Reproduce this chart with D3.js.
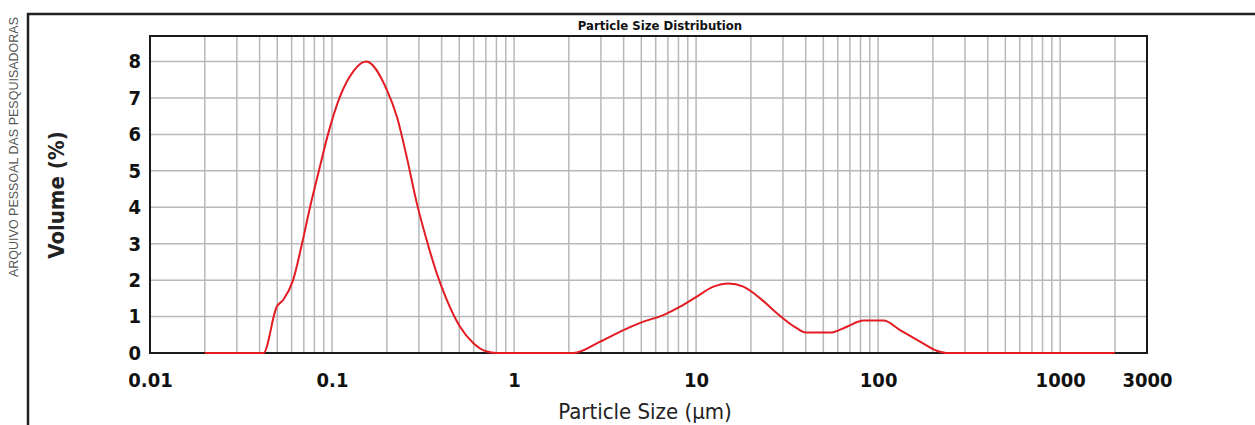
<!DOCTYPE html>
<html>
<head>
<meta charset="utf-8">
<script src="https://cdn.jsdelivr.net/npm/d3@7"></script>
<style>
  body { margin: 0; background: #fff; }
  svg { display: block; }
</style>
</head>
<body>
<div id="chart"></div>
<script>
// Particle size (um) and volume (%)
const sizes = [0.02, 0.042, 0.0497, 0.054, 0.0611, 0.0684, 0.0757, 0.0847, 0.095, 0.1107, 0.1309, 0.154,
    0.1997, 0.227, 0.257, 0.292, 0.331, 0.376, 0.427, 0.505, 0.598, 0.708, 0.80,
    2.12, 2.97, 3.99, 5.14, 6.61, 8.17, 10.1, 12.45, 15.07, 18.2, 22.5, 27.8, 35.7,
    40.5, 54.5, 67.3, 83, 107, 132, 170, 210, 238, 2000];
const volume = [0, 0, 1.27, 1.46, 2.0, 3.0, 4.0, 5.0, 6.0, 7.04, 7.73, 8.0,
    7.23, 6.49, 5.39, 4.12, 3.10, 2.19, 1.46, 0.72, 0.27, 0.04, 0,
    0, 0.31, 0.63, 0.86, 1.04, 1.27, 1.55, 1.82, 1.91, 1.82, 1.50, 1.09, 0.68,
    0.56, 0.56, 0.72, 0.89, 0.89, 0.63, 0.31, 0.06, 0, 0];
const xTicks = [0.01, 0.1, 1, 10, 100, 1000, 3000];
const yTicks = [0, 1, 2, 3, 4, 5, 6, 7, 8];

const data = sizes.map((s, i) => ({size: s, vol: volume[i]}));

const W = 1255, H = 425;
const plot = {left: 150, right: 1147, top: 36, bottom: 353};

const svg = d3.select("#chart").append("svg")
    .attr("width", W)
    .attr("height", H);

const x = d3.scaleLog()
    .domain([0.01, 3000])
    .range([plot.left, plot.right]);

const y = d3.scaleLinear()
    .domain([0, 8.7])
    .range([plot.bottom, plot.top]);

// outer frame (top and left edges of the figure box)
svg.append("path")
    .attr("d", `M28,${H} L28,14 L${W},14`)
    .attr("fill", "none")
    .attr("stroke", "#222")
    .attr("stroke-width", 2.5);

// side credit
svg.append("text")
    .attr("transform", "translate(18,147) rotate(-90)")
    .attr("text-anchor", "middle")
    .style("font-family", "Liberation Sans, Arial, sans-serif")
    .style("font-size", "12.5px")
    .attr("fill", "#555")
    .text("ARQUIVO PESSOAL DAS PESQUISADORAS");

// title
svg.append("text")
    .attr("x", 660)
    .attr("y", 30)
    .attr("text-anchor", "middle")
    .style("font-family", "DejaVu Sans Condensed, sans-serif")
    .style("font-weight", "bold")
    .style("font-size", "13px")
    .attr("fill", "#111")
    .text("Particle Size Distribution");

// vertical grid: 1..9 per decade
const gridX = [];
for (let e = -2; e <= 3; e++) {
    for (let m = 1; m <= 9; m++) {
        const v = m * Math.pow(10, e);
        if (v > 0.01 && v < 3000) gridX.push(v);
    }
}
svg.append("g")
    .selectAll("line")
    .data(gridX)
    .enter()
    .append("line")
    .attr("x1", d => x(d))
    .attr("x2", d => x(d))
    .attr("y1", plot.top)
    .attr("y2", plot.bottom)
    .attr("stroke", "#b8b8b8")
    .attr("stroke-width", 1.5);

// horizontal grid
svg.append("g")
    .selectAll("line")
    .data(yTicks.filter(d => d > 0))
    .enter()
    .append("line")
    .attr("x1", plot.left)
    .attr("x2", plot.right)
    .attr("y1", d => y(d))
    .attr("y2", d => y(d))
    .attr("stroke", "#b8b8b8")
    .attr("stroke-width", 1.5);

// plot frame
svg.append("rect")
    .attr("x", plot.left)
    .attr("y", plot.top)
    .attr("width", plot.right - plot.left)
    .attr("height", plot.bottom - plot.top)
    .attr("fill", "none")
    .attr("stroke", "#1a1a1a")
    .attr("stroke-width", 2);

// axes labels
const tickFont = "DejaVu Sans Condensed, sans-serif";

svg.append("g")
    .attr("transform", `translate(0,${plot.bottom})`)
    .call(d3.axisBottom(x).tickValues(xTicks).tickFormat(d => String(d)).tickSize(0).tickPadding(20))
    .call(g => g.select(".domain").remove())
    .selectAll("text")
    .style("font-family", tickFont)
    .style("font-weight", "bold")
    .style("font-size", "20px")
    .attr("fill", "#111");

svg.append("g")
    .attr("transform", `translate(${plot.left},0)`)
    .call(d3.axisLeft(y).tickValues(yTicks).tickFormat(d3.format("d")).tickSize(0).tickPadding(9))
    .call(g => g.select(".domain").remove())
    .selectAll("text")
    .style("font-family", tickFont)
    .style("font-weight", "bold")
    .style("font-size", "20px")
    .attr("fill", "#111");

// the curve
svg.append("path")
    .datum(data)
    .attr("fill", "none")
    .attr("stroke", "#e31b23")
    .attr("stroke-width", 2)
    .attr("d", d3.line()
        .curve(d3.curveMonotoneX)
        .x(d => x(d.size))
        .y(d => y(d.vol))
    );

// axis titles
svg.append("text")
    .attr("x", 645)
    .attr("y", 419)
    .attr("text-anchor", "middle")
    .style("font-family", tickFont)
    .style("font-size", "22px")
    .attr("fill", "#222")
    .text("Particle Size (µm)");

svg.append("text")
    .attr("transform", "translate(64,195) rotate(-90)")
    .attr("text-anchor", "middle")
    .style("font-family", tickFont)
    .style("font-weight", "bold")
    .style("font-size", "22px")
    .attr("fill", "#222")
    .text("Volume (%)");
</script>
</body>
</html>
